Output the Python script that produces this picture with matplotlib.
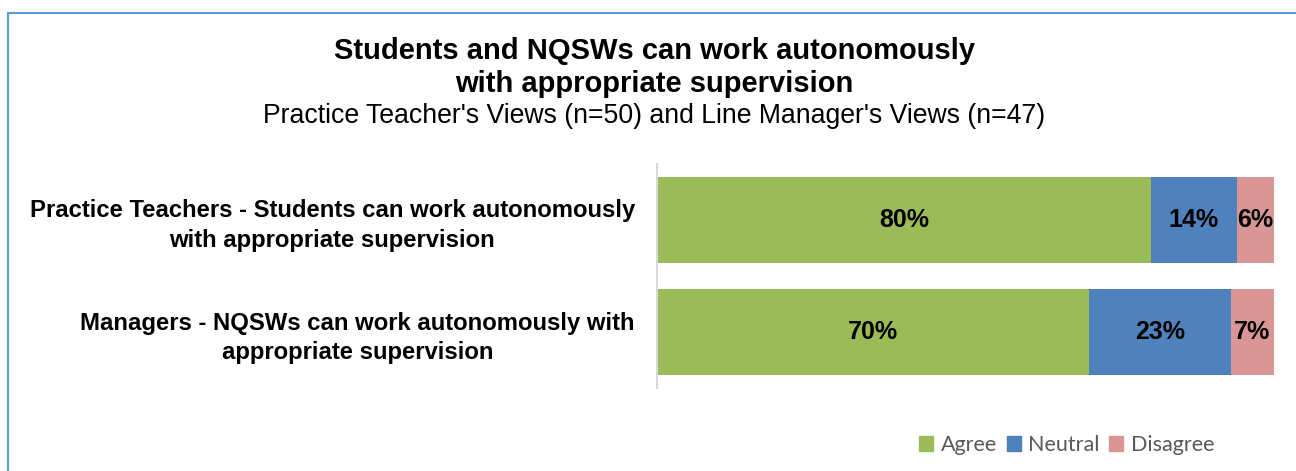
import matplotlib.pyplot as plt
from matplotlib.lines import Line2D

# ---------------- Data ----------------
groups = [
    "Practice Teachers - Students can work autonomously\nwith appropriate supervision",
    "Managers - NQSWs can work autonomously with\nappropriate supervision",
]
agree = [80, 70]
neutral = [14, 23]
disagree = [6, 7]

series = [("Agree", agree, "#9BBB59"),
          ("Neutral", neutral, "#4F81BD"),
          ("Disagree", disagree, "#D99694")]

plt.rcParams['font.family'] = ['Liberation Sans', 'DejaVu Sans']

fig = plt.figure(figsize=(12.96, 4.71), dpi=100)
ax = fig.add_axes([0.507, 0.176, 0.476, 0.476])

ypos = list(range(len(groups)))
left = [0] * len(groups)
for name, vals, col in series:
    ax.barh(ypos, vals, left=left, height=0.77, color=col, label=name)
    for y, l, v in zip(ypos, left, vals):
        ax.text(l + v / 2, y, f"{v}%", ha='center', va='center',
                fontsize=18, fontweight='bold', color='black')
    left = [a + b for a, b in zip(left, vals)]

ax.set_xlim(0, 100)
ax.set_ylim(len(groups) - 0.5, -0.5)
ax.set_xticks([])
ax.set_yticks(ypos)
ax.set_yticklabels(groups, fontsize=17.2, fontweight='bold', multialignment='center',
                   linespacing=1.35)
ax.tick_params(axis='y', length=0, pad=16)
for s in ['top', 'right', 'bottom']:
    ax.spines[s].set_visible(False)
ax.spines['left'].set_color('#D9D9D9')
ax.spines['left'].set_linewidth(1.5)

fig.text(0.505, 0.857, "Students and NQSWs can work autonomously\nwith appropriate supervision",
         ha='center', va='center', fontsize=21, fontweight='bold', linespacing=1.2)
fig.text(0.505, 0.754, "Practice Teacher's Views (n=50) and Line Manager's Views (n=47)",
         ha='center', va='center', fontsize=19.2)

handles = [plt.Rectangle((0, 0), 1, 1, color=c) for _, _, c in series]
leg = fig.legend(handles, [n for n, _, _ in series], loc='center', ncol=3,
                 bbox_to_anchor=(0.823, 0.055), frameon=False,
                 prop={'family': 'Lato', 'size': 15.5}, handlelength=0.65,
                 handleheight=0.65, handletextpad=0.35, columnspacing=0.45)
for t in leg.get_texts():
    t.set_color('#595959')

# outer frame
fig.add_artist(Line2D([8 / 1296, 8 / 1296], [0, 1 - 13 / 471], color='#5B9BD5', lw=1.5))
fig.add_artist(Line2D([8 / 1296, 1], [1 - 13 / 471, 1 - 13 / 471], color='#5B9BD5', lw=1.5))

fig.savefig("out.png", dpi=100)
